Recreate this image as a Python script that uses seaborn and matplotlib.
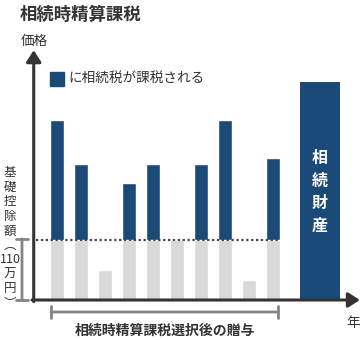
import numpy as np
import pandas as pd
import matplotlib
matplotlib.use("Agg")
import matplotlib.pyplot as plt
import seaborn as sns
from matplotlib.patches import Rectangle

# Annual gifts (万円) made after electing 相続時精算課税, and the final estate
years = ["1", "2", "3", "4", "5", "6", "7", "8", "9", "10"]
gifts = [330, 250, 55, 215, 250, 110, 250, 330, 36, 260]
estate_value = 400
exemption = 110  # 基礎控除額（万円）

title = "相続時精算課税"
y_label = "価格"
x_label = "年"
legend_label = "に相続税が課税される"
bracket_label = "相続時精算課税選択後の贈与"
estate_label = ["相", "続", "財", "産"]
exemption_label = ["基", "礎", "控", "除", "額", "︵", "110", "万", "円", "︶"]

NAVY = "#1c4a78"
GRAY = "#d9d9d9"
INK = "#333333"
RULE = "#858585"

sns.set_theme(style="white")
plt.rcParams["font.family"] = ["Noto Sans CJK JP", "DejaVu Sans"]

fig = plt.figure(figsize=(3.6, 3.4), dpi=100)
ax = fig.add_axes([0, 0, 1, 1])

df = pd.DataFrame({"year": years, "total": gifts})
df["covered"] = np.minimum(df["total"], exemption)

bar_w = 14 / 24
# full gift in navy, the part under the exemption painted over in gray
sns.barplot(data=df, x="year", y="total", order=years, color=NAVY,
            width=bar_w, saturation=1, errorbar=None, ax=ax)
sns.barplot(data=df, x="year", y="covered", order=years, color=GRAY,
            width=bar_w, saturation=1, errorbar=None, ax=ax)
# estate bar, two slots to the right of the last gift
estate_x = len(years) + 1
ax.bar(estate_x - 0.04, estate_value, width=40 / 24, color=NAVY, linewidth=0)

ax.set_xlim(-2.375, 12.625)
ax.set_ylim(-73.33, 550)
ax.axis("off")

# axes drawn as arrows
axis_x = -0.97
ax.annotate("", xy=(12.62, 0), xytext=(axis_x - 0.07, 0),
            arrowprops=dict(arrowstyle="-|>,head_length=0.5,head_width=0.32",
                            lw=2.2, color=INK, shrinkA=0, shrinkB=0,
                            mutation_scale=14))
ax.annotate("", xy=(axis_x, 458), xytext=(axis_x, -3),
            arrowprops=dict(arrowstyle="-|>,head_length=0.5,head_width=0.32",
                            lw=2.2, color=INK, shrinkA=0, shrinkB=0,
                            mutation_scale=14))

# exemption threshold
ax.plot([axis_x + 0.1, len(years) - 1 + bar_w / 2], [exemption, exemption],
        ls=(0, (1, 1.2)), lw=1.6, color="#444444")

# bracket for the exemption height
ax.annotate("", xy=(-1.458, exemption + 2), xytext=(-1.458, 0),
            arrowprops=dict(arrowstyle="|-|,widthA=0.4,widthB=0.4",
                            lw=2, color=RULE, shrinkA=0, shrinkB=0,
                            mutation_scale=10))
# bracket under the gift years
ax.annotate("", xy=(len(years) - 1 + bar_w / 2 - 0.08, -22), xytext=(-0.25, -22),
            arrowprops=dict(arrowstyle="|-|,widthA=0.4,widthB=0.4",
                            lw=2, color=RULE, shrinkA=0, shrinkB=0,
                            mutation_scale=10))


def px(x, y):
    return x / 360, 1 - y / 340


fig.text(*px(20, 15), title, fontsize=12.5, fontweight="bold",
         ha="left", va="center", color=INK)
fig.text(*px(21, 41), y_label, fontsize=9.8, ha="left", va="center", color=INK)
fig.text(*px(353, 323), x_label, fontsize=9.8, ha="center", va="center", color=INK)

fig.patches.append(Rectangle(px(50, 85.5), 14 / 360, 13.5 / 340,
                             transform=fig.transFigure, color=NAVY))
fig.text(*px(68, 78.5), legend_label, fontsize=9.8, ha="left", va="center", color=INK)

fig.text(*px(165, 331), bracket_label, fontsize=10, fontweight="bold",
         ha="center", va="center", color=INK)

fig.text(*px(10, 238), "\n".join(exemption_label), fontsize=9, ha="center",
         va="center", color=INK, linespacing=1.15)

fig.text(*px(320, 192), "\n".join(estate_label), fontsize=11.5, fontweight="bold",
         ha="center", va="center", color="white", linespacing=1.5)

fig.savefig("out.png", dpi=100, facecolor="white")
